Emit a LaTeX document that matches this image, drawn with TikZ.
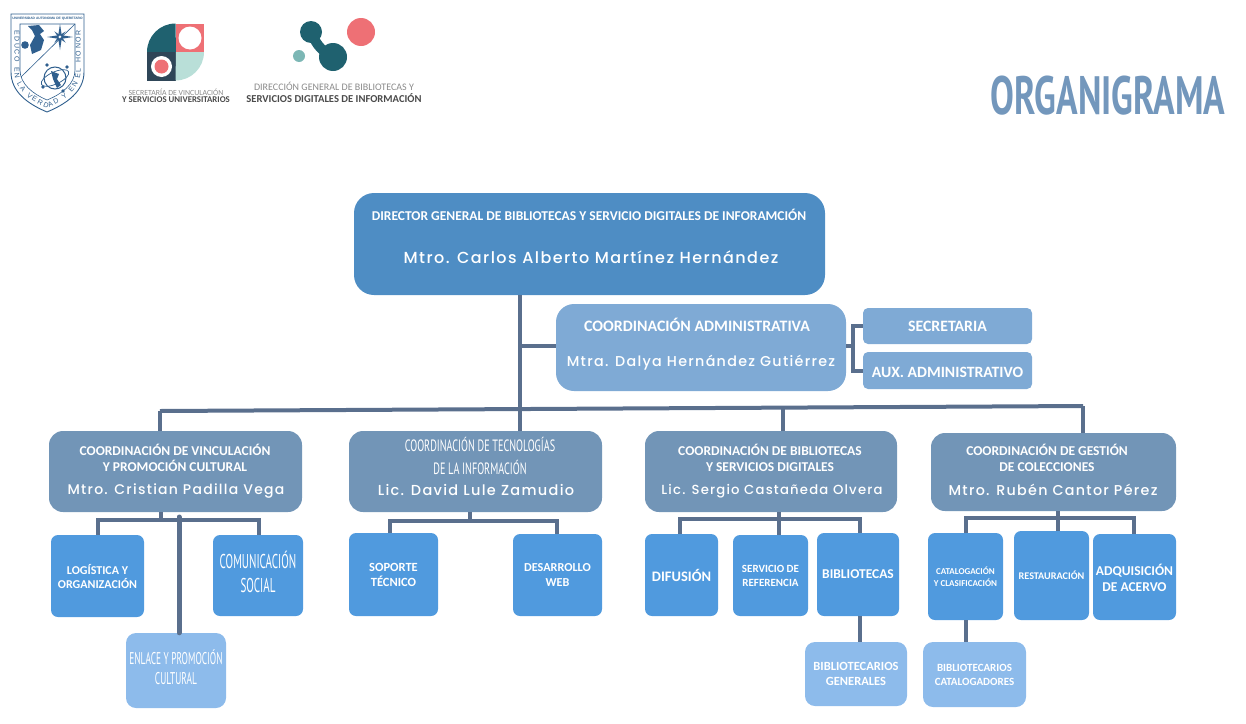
\documentclass[tikz,border=0pt]{standalone}
\usepackage{fontspec}
\usepackage{tikz}
\usetikzlibrary{decorations.text}
\setmainfont{Carlito}
\newfontfamily\namefont[LetterSpace=9,UprightFont=* Medium]{Poppins}
\newfontfamily\narrowfont[FakeStretch=0.62]{PT Sans}
\newfontfamily\tallfont[FakeStretch=0.55]{PT Sans}
\newfontfamily\bannerfont[FakeStretch=0.66]{PT Sans}
\newfontfamily\shieldfont{Liberation Sans}
\newcommand{\boldsize}[2]{\bfseries\fontsize{#1}{#2}\selectfont}
\newcommand{\narrowsize}[2]{\narrowfont\fontsize{#1}{#2}\selectfont}
\newcommand{\tallsize}[2]{\tallfont\fontsize{#1}{#2}\selectfont}
\newcommand{\namesize}[1]{\namefont\fontsize{#1}{#1}\selectfont}
\newcommand{\orgnode}[7]{\node (#1) [#6, minimum width={#4-#2}, minimum height={#5-#3}] at ({(#2+#4)/2},{(#3+#5)/2}) {#7};}
\definecolor{directorblue}{HTML}{4E8DC4}
\definecolor{adminblue}{HTML}{7FAAD5}
\definecolor{coordblue}{HTML}{7295B7}
\definecolor{leafblue}{HTML}{509ADE}
\definecolor{subblue}{HTML}{8DBBEB}
\definecolor{linkslate}{HTML}{5A6F8D}
\definecolor{titleblue}{HTML}{7397BC}
\definecolor{shieldblue}{HTML}{2F5F8E}
\definecolor{darkteal}{HTML}{1F616F}
\definecolor{coral}{HTML}{EE7075}
\definecolor{paleteal}{HTML}{B9DFD8}
\definecolor{midteal}{HTML}{7CB7B5}
\definecolor{darkslate}{HTML}{2F4658}
\definecolor{logogray}{HTML}{8A8A8A}
\definecolor{logodark}{HTML}{4A4A4A}
\tikzset{
	orgbox/.style={inner sep=0pt, text=white, align=center},
	directorbox/.style={orgbox, fill=directorblue, rounded corners=20pt},
	adminbox/.style={orgbox, fill=adminblue, rounded corners=18pt},
	helperbox/.style={orgbox, fill=adminblue, rounded corners=5pt},
	coordbox/.style={orgbox, fill=coordblue, rounded corners=14pt},
	leafbox/.style={orgbox, fill=leafblue, rounded corners=7pt},
	subbox/.style={orgbox, fill=subblue, rounded corners=10pt},
	boxtext/.style={inner sep=0pt, text=white, align=center},
	link/.style={draw=linkslate, line width=4pt},
	logotext/.style={inner sep=0pt, align=center}
}
\begin{document}
\begin{tikzpicture}[x=1pt,y=-1pt]
	\useasboundingbox (0,0) rectangle (1246,723);
	\orgnode{director}{354}{193}{825}{295}{directorbox}{}
	\orgnode{admin}{556}{304}{846}{391}{adminbox}{}
	\orgnode{secretaria}{863}{308}{1032}{344}{helperbox, font={\boldsize{15.8}{18}}}{SECRETARIA}
	\orgnode{auxiliar}{863}{352}{1032}{389}{helperbox, font={\boldsize{15.7}{18}}}{\rule{0pt}{14pt}AUX. ADMINISTRATIVO}
	\orgnode{vinc}{49}{431}{302}{512}{coordbox}{}
	\orgnode{tec}{349}{431}{602}{512}{coordbox}{}
	\orgnode{bib}{645}{431}{897}{512}{coordbox}{}
	\orgnode{gest}{931}{433}{1176}{511}{coordbox}{}
	\orgnode{logistica}{51}{535}{144}{617}{leafbox, font={\boldsize{12}{14}}}{LOGÍSTICA Y\\ORGANIZACIÓN}
	\orgnode{comunicacion}{213}{535}{303}{616}{leafbox, font={\tallsize{20}{24}}}{COMUNICACIÓN\\SOCIAL\rule[-8pt]{0pt}{0pt}}
	\orgnode{enlace}{126}{633}{226}{708}{subbox, font={\tallsize{17}{20}}}{ENLACE Y PROMOCIÓN\\CULTURAL\rule[-7pt]{0pt}{0pt}}
	\orgnode{soporte}{349}{533}{438}{616}{leafbox, font={\boldsize{12.5}{15}}}{SOPORTE\\TÉCNICO}
	\orgnode{desarrollo}{513}{534}{602}{616}{leafbox, font={\boldsize{12.2}{15}}}{DESARROLLO\\WEB}
	\orgnode{difusion}{645}{534}{718}{616}{leafbox, font={\boldsize{14.5}{18}}}{DIFUSIÓN}
	\orgnode{servicio}{733}{535}{808}{616}{leafbox, font={\boldsize{11}{14}}}{SERVICIO DE\\REFERENCIA}
	\orgnode{bibliotecas}{817}{533}{899}{616}{leafbox, font={\boldsize{13.5}{18}}}{BIBLIOTECAS}
	\orgnode{generales}{805}{642}{907}{706}{subbox, font={\boldsize{12.5}{15}}}{BIBLIOTECARIOS\\GENERALES}
	\orgnode{catalogacion}{928}{533}{1003}{620}{leafbox, font={\boldsize{9}{11.5}}}{CATALOGACIÓN\\Y CLASIFICACIÓN}
	\orgnode{restauracion}{1014}{531}{1089}{620}{leafbox, font={\boldsize{10.2}{13}}}{RESTAURACIÓN}
	\orgnode{adquisicion}{1093}{534}{1176}{620}{leafbox, font={\boldsize{13.5}{16}}}{\rule{0pt}{14pt}ADQUISICIÓN\\DE ACERVO}
	\orgnode{catalogadores}{923}{642}{1026}{707}{subbox, font={\boldsize{11}{14}}}{BIBLIOTECARIOS\\CATALOGADORES}
	\node (directortitle) [boxtext, font={\boldsize{13.5}{17}}] at (589,215) {DIRECTOR GENERAL DE BIBLIOTECAS Y SERVICIO DIGITALES DE INFORAMCIÓN};
	\node (directorname) [boxtext, font={\namesize{16}}] at (591,257) {Mtro. Carlos Alberto Martínez Hernández};
	\node (admintitle) [boxtext, font={\boldsize{15.9}{18}}] at (697,325) {COORDINACIÓN ADMINISTRATIVA};
	\node (adminname) [boxtext, font={\namesize{14.3}}] at (701,363) {Mtra. Dalya Hernández Gutiérrez};
	\node (vinctitle) [boxtext, font={\boldsize{13.5}{16}}] at (175,458) {COORDINACIÓN DE VINCULACIÓN\\Y PROMOCIÓN CULTURAL};
	\node (vincname) [boxtext, font={\namesize{14}}] at (176,491.5) {Mtro. Cristian Padilla Vega};
	\node (tectitle) [boxtext, font={\narrowsize{16.4}{23}}] at (480,455.5) {COORDINACIÓN DE TECNOLOGÍAS\\DE LA INFORMACIÓN};
	\node (tecname) [boxtext, font={\namesize{14.5}}] at (476,490) {Lic. David Lule Zamudio};
	\node (bibtitle) [boxtext, font={\boldsize{13.5}{16}}] at (770,458) {COORDINACIÓN DE BIBLIOTECAS\\Y SERVICIOS DIGITALES};
	\node (bibname) [boxtext, font={\namesize{13.2}}] at (772,491.5) {Lic. Sergio Castañeda Olvera};
	\node (gesttitle) [boxtext, font={\boldsize{13.5}{16}}] at (1047,458) {COORDINACIÓN DE GESTIÓN\\DE COLECCIONES};
	\node (gestname) [boxtext, font={\namesize{14.3}}] at (1053,490) {Mtro. Rubén Cantor Pérez};
	\coordinate (busleft) at (160,411);
	\coordinate (busmain) at (520,408);
	\coordinate (busbib) at (783,408);
	\coordinate (busright) at (1083,406);
	\coordinate (adminfork) at (853,346);
	\coordinate (vincfork) at (161,520);
	\coordinate (enlacetop) at (179,517);
	\coordinate (tecfork) at (470,521);
	\coordinate (bibfork) at (779,519);
	\coordinate (gestfork) at (1058,518);
	\draw [link] (director.south -| busmain) -- (tec.north -| busmain);
	\draw [link] (busmain |- adminfork) -- (admin.west |- adminfork);
	\draw [link] (busleft) -- (busright);
	\draw [link] (busleft) -- (vinc.north -| busleft);
	\draw [link] (busbib) -- (bib.north -| busbib);
	\draw [link] (busright) -- (gest.north -| busright);
	\draw [link] (admin.east |- adminfork) -- (adminfork);
	\draw [link] (secretaria.west) -| (adminfork) |- (auxiliar.west);
	\foreach \parentid/\fork in {vinc/vincfork, tec/tecfork, bib/bibfork, gest/gestfork}
	{
		\draw [link] (\parentid.south -| \fork) -- (\fork);
	}
	\foreach \fork/\leaf/\dx in
	{
		vincfork/logistica/0.5, vincfork/comunicacion/0.5,
		tecfork/soporte/-3.5, tecfork/desarrollo/-0.5,
		bibfork/difusion/-1.5, bibfork/servicio/8.5, bibfork/bibliotecas/2,
		gestfork/catalogacion/0.5, gestfork/restauracion/6.5, gestfork/adquisicion/-0.5
	}
	{
		\draw [link] ([xshift=\dx pt]\leaf.north) |- (\fork);
	}
	\draw [link, line width=5pt, line cap=round] (enlacetop) -- (enlace.north -| enlacetop);
	\draw [link] ([xshift=2pt]bibliotecas.south) -- ([xshift=4pt]generales.north);
	\draw [link] (catalogacion.south) -- (catalogadores.north -| catalogacion.south);
	\node (organigrama) [inner sep=0pt, text=titleblue, font={\bannerfont\bfseries\fontsize{54}{54}\selectfont}] at (1108,96) {ORGANIGRAMA};
	\draw [shieldblue, line width=0.9pt, fill=white] (11,14) -- (84,14) -- (84,72) .. controls (84,92) and (66,104) .. (47,112) .. controls (28,104) and (11,92) .. (11,72) -- cycle;
	\draw [shieldblue, line width=0.6pt] (20,24) -- (75,24) -- (75,70) .. controls (75,84) and (62,94) .. (47,100) .. controls (33,94) and (20,84) .. (20,70) -- cycle;
	\draw [shieldblue, line width=0.6pt] (21,77) -- (75,24);
	\node (shieldtop) [inner sep=0pt, text=shieldblue, font={\shieldfont\bfseries\fontsize{3.3}{4}\selectfont}] at (47.5,19) {UNIVERSIDAD AUTONOMA DE QUERETARO};
	\path [decorate, decoration={text along path, text color=shieldblue, text align={fit to path},
		text={|\shieldfont\fontsize{7}{9}\selectfont|EDUCO EN LA VERDAD Y EN EL HONOR}}]
		(14.5,30) -- (14.5,72) .. controls (14.5,90) and (30,101) .. (47,108) .. controls (64,101) and (80.5,90) .. (80.5,72) -- (80.5,30);
	\begin{scope}[shift={(60,37)}]
		\foreach \ang in {0,90,180,270}
		{
			\fill [shieldblue] (\ang:13) -- (\ang+45:2.5) -- (\ang-45:2.5) -- cycle;
			\fill [shieldblue] (\ang+45:8) -- (\ang+90:1.8) -- (\ang:1.8) -- cycle;
		}
	\end{scope}
	\fill [shieldblue] (25,45) circle (3.8);
	\fill [shieldblue] (28,26) -- (39,25) -- (44,31) -- (40,34) -- (44,40) -- (41,50) -- (32,54) -- (30,45) -- (35,36) -- (32,30) -- cycle;
	\draw [shieldblue, line width=1pt] (55,78) circle (11);
	\draw [shieldblue, line width=0.7pt, rotate around={25:(55,78)}] (55,78) ellipse (15 and 6);
	\fill [shieldblue] (51,71) -- (59,74) -- (57,79) -- (61,85) -- (57,88) -- (53,79) -- cycle;
	\foreach \bx/\by in {47/65, 67/67, 43/87, 63/91}
	{
		\fill [shieldblue] (\bx,\by) circle (1.8);
	}
	\fill [darkteal] (147,52) arc (180:270:28.5) -- (176,52) -- cycle;
	\fill [coral] (176,24) rectangle (204,52);
	\fill [white] (190,38) circle (11.5);
	\fill [darkslate] (147,52) rectangle (176,81);
	\fill [white] (161.5,66.5) circle (10.5);
	\fill [coral] (161.5,66.5) circle (7);
	\fill [paleteal] (176,52) -- (204,52) arc (0:90:28.5) -- cycle;
	\node (secretariatop) [logotext, text=logogray, font={\fontsize{7.8}{8}\selectfont}] at (176,92) {SECRETARÍA DE VINCULACIÓN};
	\node (secretariabottom) [logotext, text=logodark, font={\boldsize{8.8}{8}}] at (176,100) {Y SERVICIOS UNIVERSITARIOS};
	\draw [darkteal, line width=10pt, line cap=round] (311,32) .. controls (318,48) and (322,50) .. (333,57);
	\fill [darkteal] (311,32) circle (11);
	\fill [darkteal] (333,57) circle (14);
	\fill [coral] (361,32) circle (14);
	\fill [midteal] (299,56) circle (6);
	\node (direcciontop) [logotext, text=logogray, font={\fontsize{10}{10}\selectfont}] at (334,86) {DIRECCIÓN GENERAL DE BIBLIOTECAS Y};
	\node (direccionbottom) [logotext, text=logodark, font={\boldsize{10.6}{10}}] at (334,98) {SERVICIOS DIGITALES DE INFORMACIÓN};
\end{tikzpicture}
\end{document}
